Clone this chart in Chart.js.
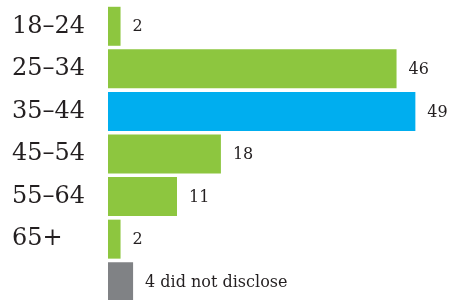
<!doctype html>
<html lang="en">

<head>
    <meta charset="utf-8">
    <title>Age groups</title>
    <style>
        body {
            margin: 0;
            overflow: hidden;
            background: #fff;
        }
    </style>
</head>

<body>
    <canvas id="myChart" width="453" height="303"></canvas>

    <script src="https://cdn.jsdelivr.net/npm/chart.js@4.4.0/dist/chart.umd.min.js"></script>
    <script>
        // data
        let categories = ['18–24', '25–34', '35–44', '45–54', '55–64', '65+', ''];
        let values = [2, 46, 49, 18, 11, 2, 4];
        let valueLabels = ['2', '46', '49', '18', '11', '2', '4 did not disclose'];
        let barColors = ['#8dc63f', '#8dc63f', '#00aeef', '#8dc63f', '#8dc63f', '#8dc63f', '#808285'];

        // little plugin to write the numbers after the bars
        let barLabels = {
            id: 'barLabels',
            afterDatasetsDraw(chart) {
                let ctx = chart.ctx;
                let meta = chart.getDatasetMeta(0);
                ctx.save();
                ctx.font = '16px "DejaVu Serif"';
                ctx.fillStyle = '#231f20';
                ctx.textAlign = 'left';
                ctx.textBaseline = 'middle';
                meta.data.forEach((bar, i) => {
                    ctx.fillText(valueLabels[i], bar.x + 12, bar.y + 1);
                });
                ctx.restore();
            }
        };

        let ctx = document.getElementById('myChart').getContext('2d');
        let myChart = new Chart(ctx, {
            type: 'bar',
            data: {
                labels: categories,
                datasets: [{
                    data: values,
                    backgroundColor: barColors,
                    barPercentage: 0.916,
                    categoryPercentage: 1
                }]
            },
            options: {
                indexAxis: 'y',
                responsive: false,
                animation: false,
                layout: {
                    padding: { left: 12, top: 5, right: 0, bottom: 0 }
                },
                plugins: {
                    legend: { display: false },
                    tooltip: { enabled: false }
                },
                scales: {
                    x: {
                        display: false,
                        min: 0,
                        max: 55
                    },
                    y: {
                        grid: { display: false },
                        border: { display: false },
                        ticks: {
                            crossAlign: 'far',
                            color: '#231f20',
                            font: { family: 'DejaVu Serif', size: 24 }
                        },
                        afterFit(scale) {
                            scale.width = 96;
                            // no extra room for half labels at the ends
                            scale.paddingTop = 0;
                            scale.paddingBottom = 0;
                        }
                    }
                }
            },
            plugins: [barLabels]
        });
    </script>
</body>

</html>
